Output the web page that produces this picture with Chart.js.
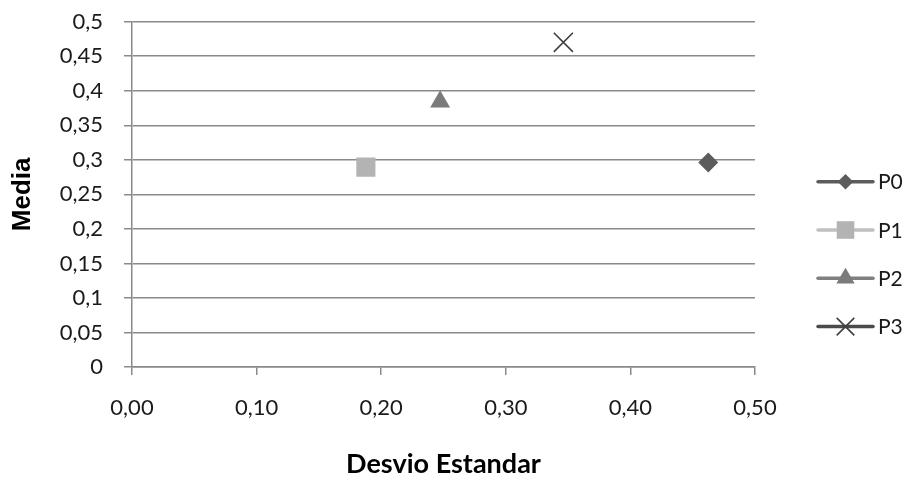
<!DOCTYPE html>
<html>
<head>
<meta charset="utf-8">
<script src="https://cdn.jsdelivr.net/npm/chart.js@4/dist/chart.umd.min.js"></script>
<style>
  html, body { margin: 0; padding: 0; background: #ffffff; }
  #wrap { width: 908px; height: 480px; position: relative; }
</style>
</head>
<body>
<div id="wrap"><canvas id="chart"></canvas></div>
<script>
// Series: standard deviation (x) against mean (y) for each group
const seriesNames = ['P0', 'P1', 'P2', 'P3'];
const desvioValues = [0.4625, 0.1877, 0.2473, 0.3462];
const mediaValues = [0.2962, 0.2894, 0.3841, 0.4701];

// Axis tick labels (decimal comma)
const yTickLabels = ['0', '0,05', '0,1', '0,15', '0,2', '0,25', '0,3', '0,35', '0,4', '0,45', '0,5'];
const xTickLabels = ['0,00', '0,10', '0,20', '0,30', '0,40', '0,50'];

// Marker appearance per series
const seriesLook = [
  { style: 'rectRot',  radius: 10,   fill: '#5c5c5c', legendLine: '#5c5c5c', border: 0,   legendScale: 0.78 },
  { style: 'rect',     radius: 13.5, fill: '#b3b3b3', legendLine: '#c0c0c0', border: 0,   legendScale: 0.92 },
  { style: 'triangle', radius: 11.5, fill: '#7b7b7b', legendLine: '#808080', border: 0,   legendScale: 0.92 },
  { style: 'crossRot', radius: 13.5, fill: '#404040', legendLine: '#4a4a4a', border: 1.6, legendScale: 0.92 }
];

const gridColor = '#8a8a8a';
const tickFont = { family: 'Lato', size: 22 };

const datasets = seriesNames.map((name, i) => ({
  label: name,
  data: [{ x: desvioValues[i], y: mediaValues[i] }],
  pointStyle: seriesLook[i].style,
  pointRadius: seriesLook[i].radius,
  backgroundColor: seriesLook[i].fill,
  borderColor: seriesLook[i].fill,
  pointBorderWidth: seriesLook[i].border,
  showLine: false,
  legendLineColor: seriesLook[i].legendLine,
  legendScale: seriesLook[i].legendScale
}));

// Right-hand legend: a short thick line with the series marker, then the name
const lineMarkerLegend = {
  id: 'lineMarkerLegend',
  afterDraw(chart) {
    const ctx = chart.ctx;
    const x0 = 818, x1 = 873, textX = 878;
    const firstY = 181.7, rowGap = 48.3;
    ctx.save();
    chart.data.datasets.forEach((ds, i) => {
      const y = firstY + i * rowGap;
      ctx.beginPath();
      ctx.lineCap = 'round';
      ctx.lineWidth = 3.5;
      ctx.strokeStyle = ds.legendLineColor;
      ctx.moveTo(x0, y);
      ctx.lineTo(x1, y);
      ctx.stroke();

      ctx.fillStyle = ds.backgroundColor;
      ctx.strokeStyle = ds.borderColor;
      ctx.lineWidth = ds.pointBorderWidth;
      ctx.lineCap = 'butt';
      Chart.helpers.drawPoint(ctx, {
        pointStyle: ds.pointStyle,
        rotation: 0,
        radius: ds.pointRadius * ds.legendScale,
        borderWidth: ds.pointBorderWidth
      }, (x0 + x1) / 2, y);

      ctx.fillStyle = '#1a1a1a';
      ctx.font = '21px Lato';
      ctx.textAlign = 'left';
      ctx.textBaseline = 'middle';
      ctx.fillText(ds.label, textX, y + 1);
    });
    ctx.restore();
  }
};

new Chart(document.getElementById('chart'), {
  type: 'scatter',
  data: { datasets },
  plugins: [lineMarkerLegend],
  options: {
    responsive: true,
    maintainAspectRatio: false,
    animation: false,
    events: [],
    layout: { padding: { left: 0, top: 21.7, right: 153, bottom: 0 } },
    plugins: {
      legend: { display: false },
      tooltip: { enabled: false }
    },
    scales: {
      x: {
        type: 'linear',
        position: 'bottom',
        min: 0,
        max: 0.5,
        afterFit(scale) { scale.height = 113; },
        ticks: {
          stepSize: 0.1,
          padding: 20,
          maxRotation: 0,
          color: '#1a1a1a',
          font: tickFont,
          callback: (v, i) => xTickLabels[i]
        },
        grid: {
          drawOnChartArea: false,
          drawTicks: true,
          tickLength: 8,
          color: gridColor,
          lineWidth: 1.5
        },
        border: { color: gridColor, width: 1.5 },
        title: {
          display: true,
          text: 'Desvio Estandar',
          color: '#000000',
          font: { family: 'Lato', size: 27, weight: 'bold' },
          padding: { top: 0, bottom: 0 }
        }
      },
      y: {
        type: 'linear',
        min: 0,
        max: 0.5,
        afterFit(scale) {
          // fixed axis width; the plot top/bottom come from the layout padding alone
          scale.width = 132;
          scale.paddingTop = 0;
          scale.paddingBottom = 0;
        },
        ticks: {
          stepSize: 0.05,
          padding: 21,
          color: '#1a1a1a',
          font: tickFont,
          callback: (v, i) => yTickLabels[i]
        },
        grid: {
          drawOnChartArea: true,
          drawTicks: true,
          tickLength: 8,
          color: gridColor,
          lineWidth: 1.5
        },
        border: { color: gridColor, width: 1.5 },
        title: {
          display: true,
          text: 'Media',
          color: '#000000',
          font: { family: 'Liberation Sans', size: 26, weight: 'bold' },
          padding: { top: 7, bottom: 0 }
        }
      }
    }
  }
});
</script>
</body>
</html>
